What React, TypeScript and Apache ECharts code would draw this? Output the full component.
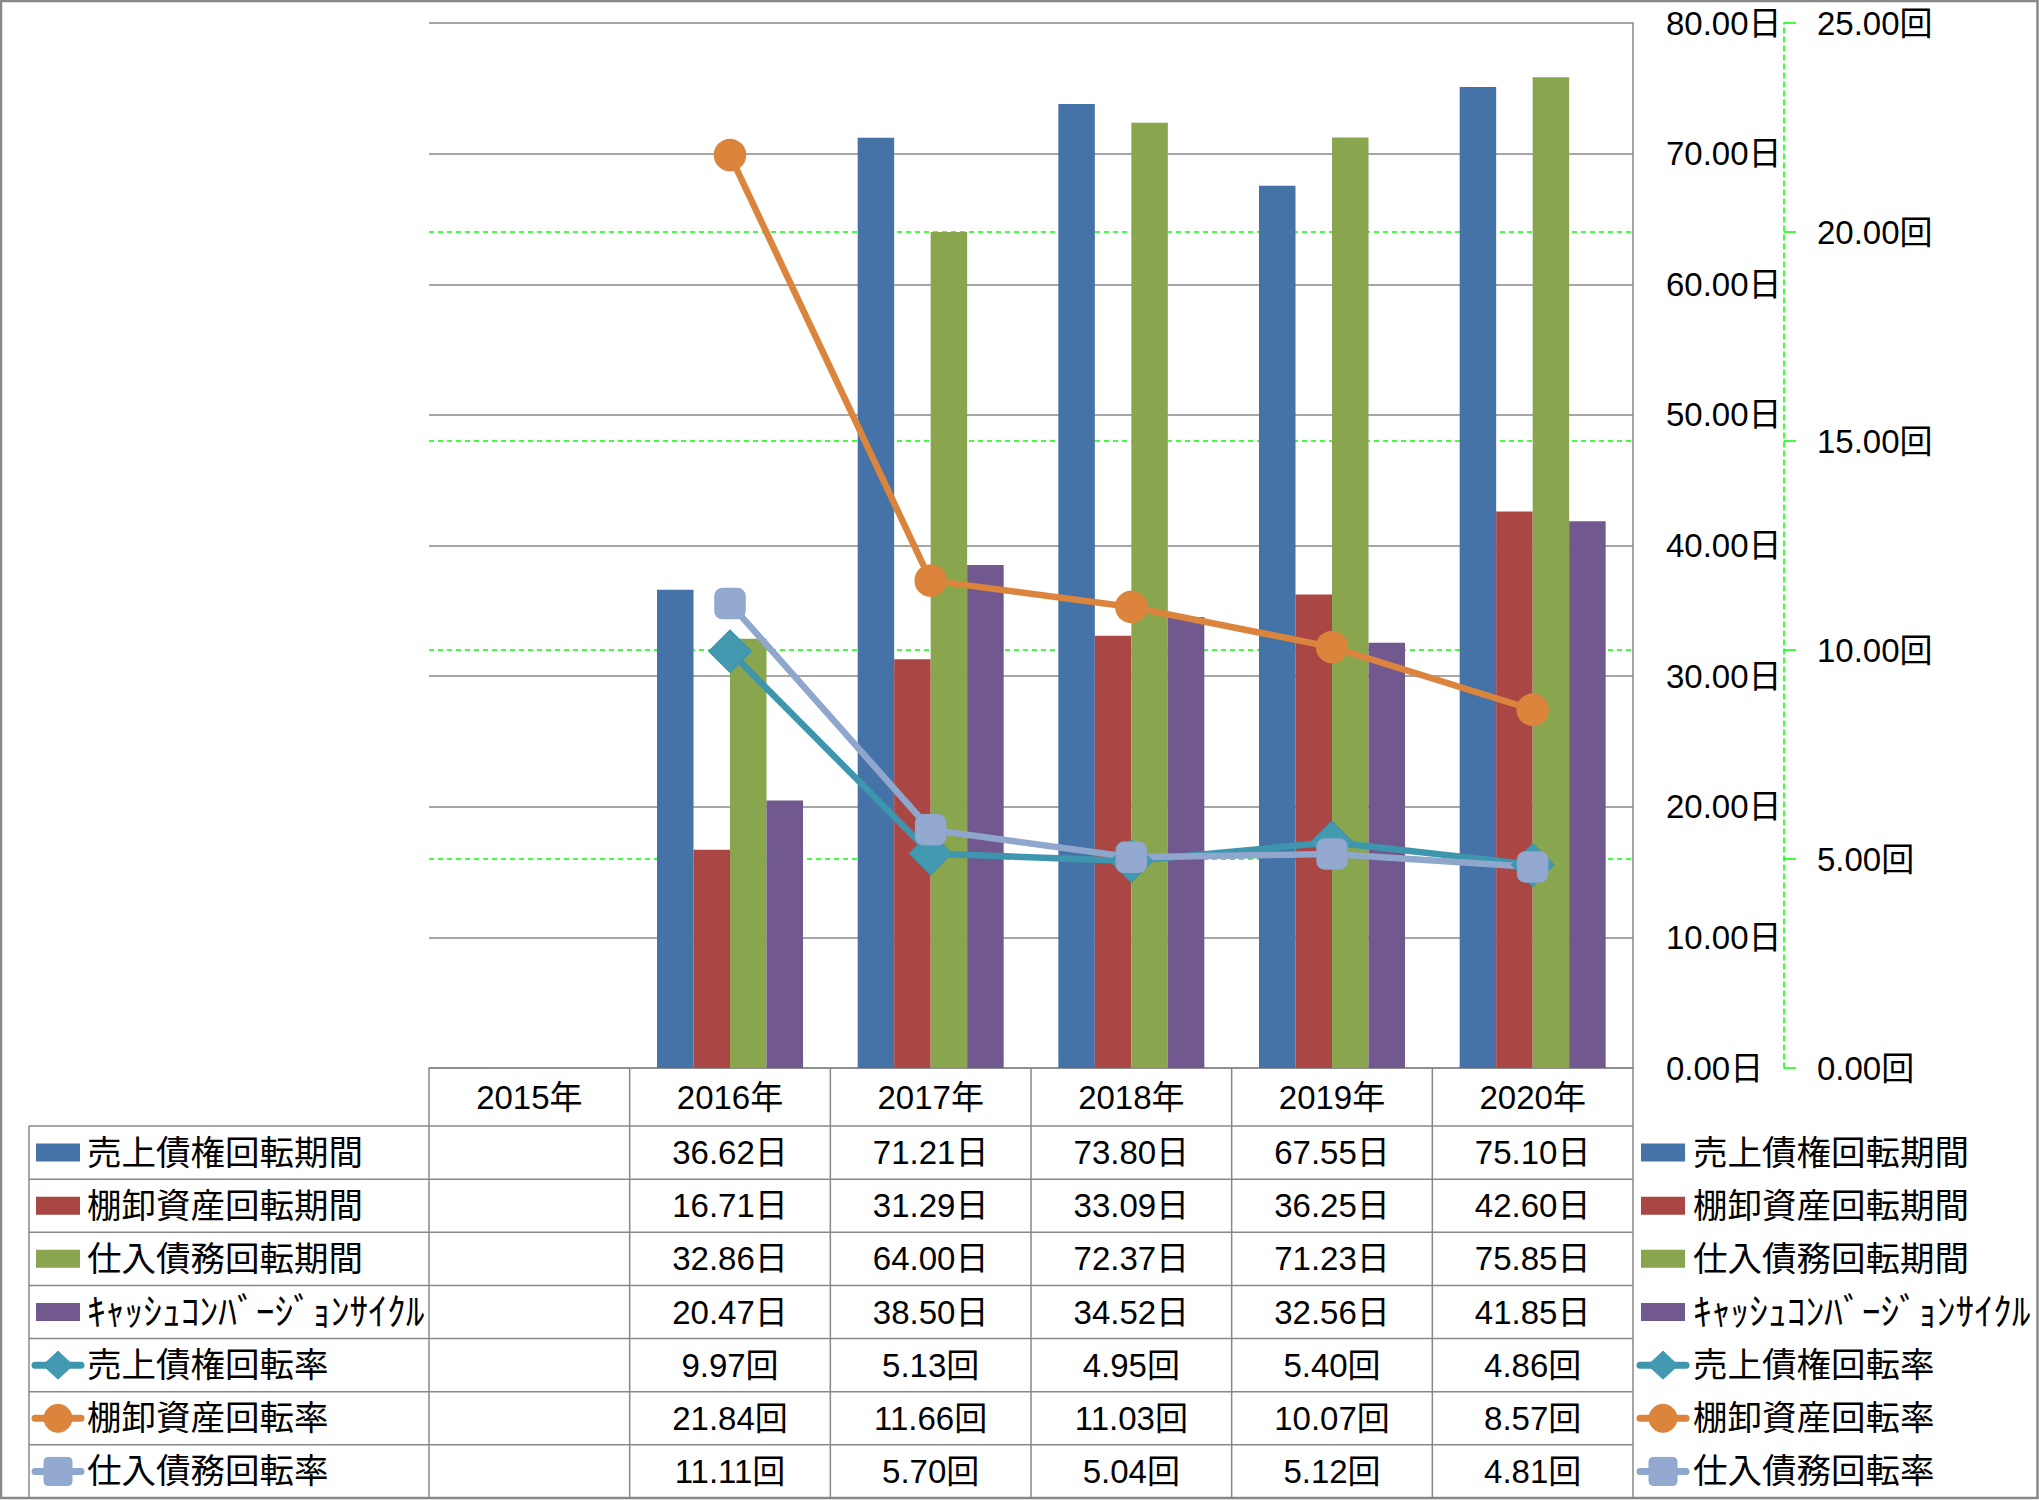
import React, { useEffect, useRef } from "react";
import * as echarts from "echarts";

// ---- Data ----
const categories = ["2015年", "2016年", "2017年", "2018年", "2019年", "2020年"];
const arPeriod = [null, 36.62, 71.21, 73.8, 67.55, 75.1];
const invPeriod = [null, 16.71, 31.29, 33.09, 36.25, 42.6];
const apPeriod = [null, 32.86, 64.0, 72.37, 71.23, 75.85];
const cccDays = [null, 20.47, 38.5, 34.52, 32.56, 41.85];
const arTurnover = [null, 9.97, 5.13, 4.95, 5.4, 4.86];
const invTurnover = [null, 21.84, 11.66, 11.03, 10.07, 8.57];
const apTurnover = [null, 11.11, 5.7, 5.04, 5.12, 4.81];
const daysAxis = { min: 0, max: 80, interval: 10 };
const timesAxis = { min: 0, max: 25, interval: 5 };

const seriesDefs = [
  { name: "売上債権回転期間", data: arPeriod, kind: "bar", unit: "日", color: "#4572A7" },
  { name: "棚卸資産回転期間", data: invPeriod, kind: "bar", unit: "日", color: "#AA4643" },
  { name: "仕入債務回転期間", data: apPeriod, kind: "bar", unit: "日", color: "#89A54E" },
  { name: "ｷｬｯｼｭｺﾝﾊﾞｰｼﾞｮﾝｻｲｸﾙ", data: cccDays, kind: "bar", unit: "日", color: "#71588F" },
  { name: "売上債権回転率", data: arTurnover, kind: "line", unit: "回", color: "#3D96AE", marker: "#4399B0", symbol: "diamond" },
  { name: "棚卸資産回転率", data: invTurnover, kind: "line", unit: "回", color: "#DB843D", marker: "#DC843C", symbol: "circle" },
  { name: "仕入債務回転率", data: apTurnover, kind: "line", unit: "回", color: "#8FA7CD", marker: "#93A9CF", symbol: "roundRect" },
];

// ---- Layout ----
const W = 2039;
const H = 1500;
const GL = 429;
const GR = 1633;
const GT = 23;
const GB = 1068;
const TABLE_TOP_ROW = 1126;
const TABLE_BOTTOM = 1498;
const TABLE_LEFT = 29;
const FONT = '"Liberation Sans", "Noto Sans CJK JP", sans-serif';
const GRID_GRAY = "#888888";

function legendKey(def: any, cx: number, cy: number) {
  const els: any[] = [];
  if (def.kind === "bar") {
    els.push({ type: "rect", shape: { x: cx - 22, y: cy - 9, width: 44, height: 18 }, style: { fill: def.color }, z: 20 });
  } else {
    els.push({ type: "line", shape: { x1: cx - 23, y1: cy, x2: cx + 23, y2: cy }, style: { stroke: def.color, lineWidth: 7, lineCap: "round" }, z: 20 });
    if (def.symbol === "diamond") {
      els.push({ type: "polygon", shape: { points: [[cx, cy - 14], [cx + 15, cy], [cx, cy + 14], [cx - 15, cy]] }, style: { fill: def.marker, stroke: def.color, lineWidth: 1 }, z: 21 });
    } else if (def.symbol === "circle") {
      els.push({ type: "circle", shape: { cx, cy, r: 14 }, style: { fill: def.marker, stroke: def.color, lineWidth: 1 }, z: 21 });
    } else {
      els.push({ type: "rect", shape: { x: cx - 14, y: cy - 14, width: 28, height: 28, r: 4 }, style: { fill: def.marker, stroke: def.color, lineWidth: 1 }, z: 21 });
    }
  }
  return els;
}

function textEl(text: string, x: number, y: number, align: string, size: number) {
  return {
    type: "text",
    z: 22,
    style: {
      text,
      x,
      y,
      fill: "#000",
      font: `${size}px ${FONT}`,
      fontSize: size,
      fontFamily: FONT,
      align,
      textAlign: align,
      verticalAlign: "middle",
      textVerticalAlign: "middle",
    },
  };
}

function buildGraphic() {
  const els: any[] = [];
  const n = categories.length;
  const catW = (GR - GL) / n;
  const rowH = (TABLE_BOTTOM - TABLE_TOP_ROW) / seriesDefs.length;
  const lineStyle = { stroke: GRID_GRAY, lineWidth: 1.5 };
  for (let k = 0; k <= n; k++) {
    const x = GL + k * catW;
    els.push({ type: "line", shape: { x1: x, y1: GB, x2: x, y2: TABLE_BOTTOM }, style: lineStyle, z: 15 });
  }
  for (let i = 0; i <= seriesDefs.length; i++) {
    const y = TABLE_TOP_ROW + i * rowH;
    els.push({ type: "line", shape: { x1: TABLE_LEFT, y1: y, x2: GR, y2: y }, style: lineStyle, z: 15 });
  }
  els.push({ type: "line", shape: { x1: TABLE_LEFT, y1: TABLE_TOP_ROW, x2: TABLE_LEFT, y2: TABLE_BOTTOM }, style: lineStyle, z: 15 });

  seriesDefs.forEach((def, i) => {
    const cy = TABLE_TOP_ROW + rowH * (i + 0.5);
    const halfWidth = def.name.startsWith("ｷ");
    els.push(...legendKey(def, 58, cy));
    els.push(textEl(def.name, 87, cy, "left", halfWidth ? 37.5 : 34.5));
    els.push(...legendKey(def, 1663, cy));
    els.push(textEl(def.name, 1693, cy, "left", halfWidth ? 37.5 : 34.5));
    def.data.forEach((v: any, j: number) => {
      if (v == null) return;
      els.push(textEl(v.toFixed(2) + def.unit, GL + catW * (j + 0.5), cy, "center", 33));
    });
  });

  els.push({ type: "rect", shape: { x: 1, y: 1, width: W - 2.5, height: H - 3 }, style: { fill: "none", stroke: GRID_GRAY, lineWidth: 2.5 }, z: 30 });
  return els;
}

function buildOption() {
  const series: any[] = seriesDefs.map((def) => {
    if (def.kind === "bar") {
      return {
        type: "bar",
        name: def.name,
        data: def.data,
        yAxisIndex: 0,
        barWidth: 36.5,
        barGap: "0%",
        itemStyle: { color: def.color },
        z: 2,
      };
    }
    return {
      type: "line",
      name: def.name,
      data: def.data,
      yAxisIndex: 1,
      symbol: def.symbol,
      symbolSize: def.symbol === "diamond" ? 42 : def.symbol === "circle" ? 31 : 30,
      lineStyle: { color: def.color, width: 6.5 },
      itemStyle: { color: def.marker, borderColor: def.color, borderWidth: 1.5 },
      z: 4,
    };
  });

  const axisText = { color: "#000", fontSize: 33, fontFamily: FONT };

  return {
    animation: false,
    backgroundColor: "#fff",
    grid: { left: GL, top: GT, width: GR - GL, height: GB - GT, containLabel: false },
    xAxis: {
      type: "category",
      data: categories,
      boundaryGap: true,
      axisLine: { show: true, lineStyle: { color: GRID_GRAY, width: 1.5 } },
      axisTick: { show: false },
      splitLine: { show: false },
      axisLabel: { ...axisText, margin: 29, verticalAlign: "middle", interval: 0 },
    },
    yAxis: [
      {
        type: "value",
        position: "right",
        min: daysAxis.min,
        max: daysAxis.max,
        interval: daysAxis.interval,
        axisLine: { show: true, lineStyle: { color: GRID_GRAY, width: 1.5 } },
        axisTick: { show: false },
        splitLine: { show: true, lineStyle: { color: GRID_GRAY, width: 1.5 } },
        axisLabel: { ...axisText, margin: 33, align: "left", formatter: (v: number) => v.toFixed(2) + "日" },
      },
      {
        type: "value",
        position: "right",
        offset: 151,
        min: timesAxis.min,
        max: timesAxis.max,
        interval: timesAxis.interval,
        axisLine: { show: true, lineStyle: { color: "#00FF00", width: 1.5, type: [5, 4] } },
        axisTick: { show: true, inside: false, length: 12, lineStyle: { color: "#00FF00", width: 1.5 } },
        splitLine: { show: true, showMinLine: false, showMaxLine: false, lineStyle: { color: "#00FF00", width: 1.5, type: [5, 4] } },
        axisLabel: { ...axisText, margin: 33, align: "left", formatter: (v: number) => v.toFixed(2) + "回" },
      },
    ],
    series,
    graphic: { elements: buildGraphic() },
  };
}

export default function App() {
  const ref = useRef<HTMLDivElement>(null);
  useEffect(() => {
    if (!ref.current) return;
    const chart = echarts.init(ref.current, undefined, { renderer: "svg", width: W, height: H });
    chart.setOption(buildOption() as any);
    return () => chart.dispose();
  }, []);
  return (
    <div
      ref={ref}
      style={{ position: "fixed", left: 0, top: 0, width: W, height: H, background: "#fff" }}
    />
  );
}
